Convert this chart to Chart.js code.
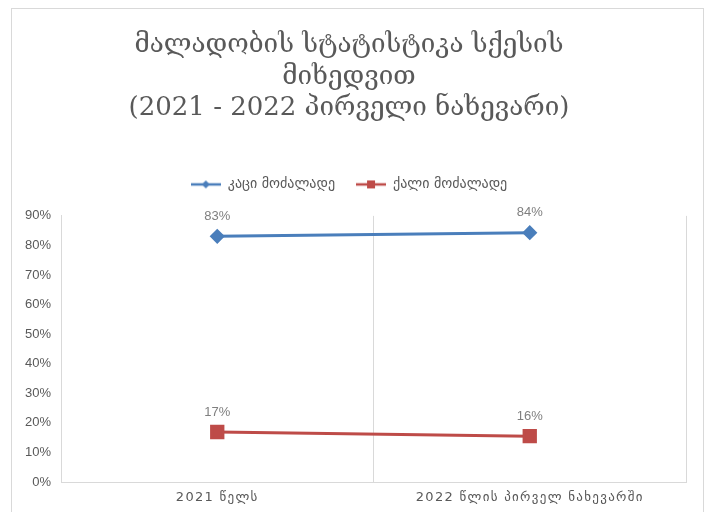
<!DOCTYPE html>
<html>
<head>
<meta charset="utf-8">
<script src="https://cdn.jsdelivr.net/npm/chart.js@4.4.0/dist/chart.umd.min.js"></script>
<style>
  body { margin: 0; background: #fff; }
  canvas { display: block; }
</style>
</head>
<body>
<canvas id="grafiki" width="705" height="512"></canvas>
<script>
// monacemebi
var kategoriebi = ['2021 წელს', '2022 წლის პირველ ნახევარში'];
var kaci = [0.831, 0.843];
var kali = [0.169, 0.155];
var seriebi = ['კაცი მოძალადე', 'ქალი მოძალადე'];
var yTikebi = [0, 0.1, 0.2, 0.3, 0.4, 0.5, 0.6, 0.7, 0.8, 0.9];

var lurji = '#4A7EBB';
var tsiteli = '#BE4B48';
var nacrisperi = '#D9D9D9';
var teqsti = '#595959';

// legendis ikona: xazi + markeri
function ikona(feri, forma) {
    var c = document.createElement('canvas');
    c.width = 30; c.height = 12;
    var x = c.getContext('2d');
    x.strokeStyle = feri;
    x.lineWidth = 2.5;
    x.beginPath(); x.moveTo(0, 6); x.lineTo(30, 6); x.stroke();
    x.fillStyle = feri;
    if (forma === 'diamond') {
        x.beginPath();
        x.moveTo(15, 2); x.lineTo(19, 6); x.lineTo(15, 10); x.lineTo(11, 6);
        x.closePath(); x.fill();
    } else {
        x.fillRect(11, 2, 8, 8);
    }
    return c;
}

// charos gare charcho
var charcho = {
    id: 'charcho',
    beforeDraw: function(chart) {
        var ctx = chart.ctx;
        ctx.save();
        ctx.strokeStyle = nacrisperi;
        ctx.lineWidth = 1;
        ctx.strokeRect(11.5, 8.5, 692, 600);
        ctx.restore();
    }
};

// procentebi wertilebis zemot
var etiketebi = {
    id: 'etiketebi',
    afterDatasetsDraw: function(chart) {
        var ctx = chart.ctx;
        ctx.save();
        ctx.font = '13px "Liberation Sans", sans-serif';
        ctx.fillStyle = '#7F7F7F';
        ctx.textAlign = 'center';
        ctx.textBaseline = 'middle';
        chart.data.datasets.forEach(function(ds, i) {
            chart.getDatasetMeta(i).data.forEach(function(pt, j) {
                ctx.fillText(Math.round(ds.data[j] * 100) + '%', pt.x, pt.y - 20);
            });
        });
        ctx.restore();
    }
};

// x gherdzis warwerebs cota gashlili asoebi aqvs
var gashla = {
    id: 'gashla',
    afterDatasetsDraw: function(chart) { chart.ctx.letterSpacing = '1.3px'; },
    afterDraw: function(chart) { chart.ctx.letterSpacing = '0px'; }
};

var ctx = document.getElementById('grafiki').getContext('2d');
var grafiki = new Chart(ctx, {
    type: 'line',
    data: {
        labels: kategoriebi,
        datasets: [{
            label: seriebi[0],
            data: kaci,
            borderColor: lurji,
            backgroundColor: lurji,
            borderWidth: 3,
            pointStyle: 'rectRot',
            pointRadius: 5.5,
            pointHoverRadius: 5.5,
            legendIkona: ikona(lurji, 'diamond')
        }, {
            label: seriebi[1],
            data: kali,
            borderColor: tsiteli,
            backgroundColor: tsiteli,
            borderWidth: 3,
            pointStyle: 'rect',
            pointRadius: 8,
            pointHoverRadius: 8,
            legendIkona: ikona(tsiteli, 'square')
        }]
    },
    options: {
        responsive: false,
        animation: false,
        layout: { padding: { left: 12, right: 19, top: 0, bottom: 0 } },
        plugins: {
            title: {
                display: true,
                text: ['მალადობის სტატისტიკა სქესის', 'მიხედვით', '(2021 - 2022 პირველი ნახევარი)'],
                color: teqsti,
                font: { family: '"DejaVu Serif", "DejaVu Sans", serif', size: 26, weight: 'normal', lineHeight: 1.21 },
                padding: { top: 30, bottom: 32 }
            },
            legend: {
                labels: {
                    color: teqsti,
                    font: { family: '"DejaVu Sans", sans-serif', size: 14 },
                    usePointStyle: true,
                    pointStyleWidth: 30,
                    padding: 21,
                    generateLabels: function(chart) {
                        return chart.data.datasets.map(function(ds, i) {
                            return {
                                text: ds.label,
                                fontColor: teqsti,
                                pointStyle: ds.legendIkona,
                                datasetIndex: i,
                                lineWidth: 0,
                                hidden: false
                            };
                        });
                    }
                }
            },
            tooltip: { enabled: false }
        },
        scales: {
            x: {
                offset: true,
                grid: { offset: true, color: nacrisperi, drawTicks: false },
                border: { color: nacrisperi },
                ticks: {
                    color: teqsti,
                    font: { family: '"DejaVu Sans", sans-serif', size: 13 },
                    padding: 8,
                    maxRotation: 0,
                    z: 1
                },
                afterFit: function(s) { s.height = 30; }
            },
            zeda: {
                type: 'category',
                position: 'top',
                labels: kategoriebi,
                grid: { display: false, drawTicks: false },
                border: { display: false },
                ticks: { display: false },
                afterFit: function(s) { s.height = 14.5; }
            },
            y: {
                min: 0,
                max: 0.9,
                afterBuildTicks: function(s) {
                    s.ticks = yTikebi.map(function(v) { return { value: v }; });
                },
                grid: { display: false, drawTicks: false },
                border: { color: nacrisperi },
                ticks: {
                    color: teqsti,
                    font: { family: '"Liberation Sans", sans-serif', size: 13 },
                    padding: 10,
                    callback: function(v) { return Math.round(v * 100) + '%'; }
                },
                afterFit: function(s) { s.width = 49; }
            }
        }
    },
    plugins: [charcho, etiketebi, gashla]
});
</script>
</body>
</html>
